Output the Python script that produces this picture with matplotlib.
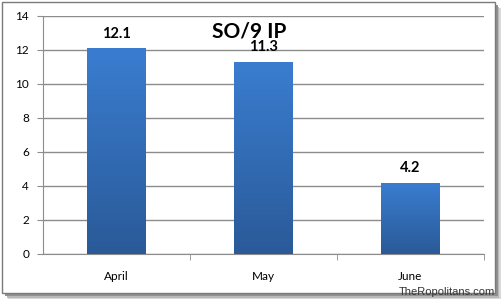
import matplotlib.pyplot as plt
import numpy as np
from matplotlib.patches import Rectangle
from matplotlib.colors import LinearSegmentedColormap

months = ["April", "May", "June"]
so9 = [12.1, 11.3, 4.2]
labels = ["12.1", "11.3", "4.2"]
yticks = [0, 2, 4, 6, 8, 10, 12, 14]

plt.rcParams['font.family'] = ['Lato', 'DejaVu Sans']

fig = plt.figure(figsize=(5.04, 3.06), dpi=100)

# outer frame with soft shadow
for off, c in [(0.012, '#d8d8d8'), (0.009, '#b8b8b8'), (0.006, '#909090')]:
    fig.patches.append(Rectangle((0.004 + off, 0.042 - off * 1.6), 0.978, 0.951,
                                 transform=fig.transFigure, facecolor=c,
                                 edgecolor='none', zorder=0))
fig.patches.append(Rectangle((0.004, 0.042), 0.978, 0.951, transform=fig.transFigure,
                             facecolor='white', edgecolor='#7a7a7a', lw=1, zorder=1))

ax = fig.add_axes([0.0853, 0.17, 0.875, 0.778])
ax.set_zorder(2)
ax.patch.set_alpha(0)

x = np.arange(len(months))
bars = ax.bar(x, so9, width=0.4, color='#3470c0', zorder=3)

grad = np.linspace(0, 1, 256).reshape(-1, 1)
cmap = LinearSegmentedColormap.from_list('b', ['#2a5a98', '#3a7dd0'])
for b in bars:
    bx, by = b.get_x(), b.get_y()
    w, h = b.get_width(), b.get_height()
    im = ax.imshow(grad, extent=[bx, bx + w, by, by + h], origin='lower',
                   cmap=cmap, aspect='auto', zorder=4)
    im.set_clip_path(b)

for xi, v, t in zip(x, so9, labels):
    ax.text(xi, v + 0.45, t, ha='center', va='bottom', fontsize=10.5,
            fontweight='bold', color='black', zorder=5)

ax.set_xlim(-0.5, 2.5)
ax.set_ylim(0, 14)
ax.set_yticks(yticks)
ax.yaxis.grid(True, color='#8c8c8c', lw=1)
ax.set_axisbelow(True)
ax.set_xticks(x)
ax.set_xticklabels(months, fontsize=8.5)
ax.tick_params(axis='x', length=0, pad=12)
ax.set_xticks([0.5, 1.5, 2.5], minor=True)
ax.tick_params(axis='x', which='minor', length=4, color='#8c8c8c')
ax.tick_params(axis='y', length=4, color='#8c8c8c', labelsize=8.5, pad=6)
for s in ['top', 'right']:
    ax.spines[s].set_visible(False)
ax.spines['left'].set_color('#8c8c8c')
ax.spines['bottom'].set_color('#8c8c8c')

ax.text(0.9, 13.1, "SO/9 IP", ha='center', va='center', fontsize=15,
        fontweight='bold', zorder=5)

fig.text(0.982, 0.03, "TheRopolitans.com", ha='right', va='bottom',
         fontsize=8, color='#333333', family=['Liberation Sans', 'DejaVu Sans'],
         zorder=6)

fig.savefig("out.png", dpi=100)
